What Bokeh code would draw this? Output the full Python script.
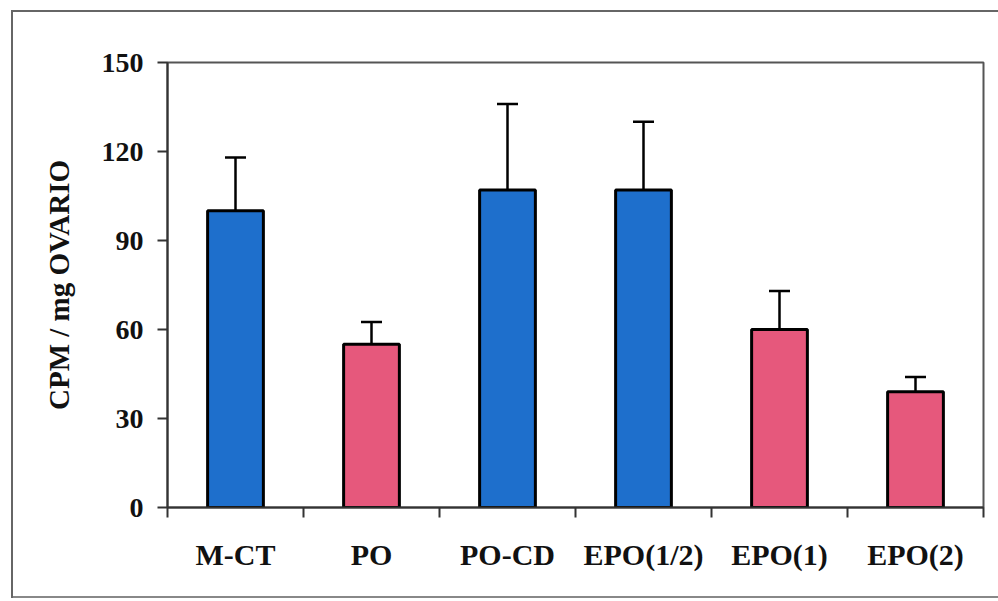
from bokeh.plotting import figure
from bokeh.models import (Range1d, FixedTicker, CustomJSTickFormatter, ColumnDataSource,
                          Whisker, TeeHead)
from bokeh.embed import file_html
from bokeh.resources import INLINE

categories = ["M-CT", "PO", "PO-CD", "EPO(1/2)", "EPO(1)", "EPO(2)"]
means = [100, 55, 107, 107, 60, 39]
errors = [18, 7.5, 29, 23, 13, 5]
colors = ["#1e6fcc", "#e6587c", "#1e6fcc", "#1e6fcc", "#e6587c", "#e6587c"]
y_ticks = [0, 30, 60, 90, 120, 150]

xs = [i + 0.5 for i in range(len(categories))]
upper = [m + e for m, e in zip(means, errors)]
src = ColumnDataSource(dict(x=xs, top=means, upper=upper, color=colors))

FONT = "Liberation Serif"

p = figure(width=998, height=600, output_backend="svg", toolbar_location=None,
           x_range=Range1d(0, len(categories)), y_range=Range1d(0, 150),
           min_border_left=167, min_border_right=15, min_border_top=62, min_border_bottom=93)
p.background_fill_color = "white"
p.border_fill_color = None
# outer scanned page frame (left, top, bottom edges) drawn behind the transparent canvas border
p.styles = {
    "background-color": "white",
    "box-shadow": ("inset 11px 0 0 #fff, inset 0 10px 0 #fff, inset 0 -2px 0 #fff, "
                   "inset 13px 0 0 #666, inset 0 12px 0 #666, inset 0 -4px 0 #888"),
}
p.outline_line_color = "#555"
p.outline_line_width = 2
p.xgrid.visible = False
p.ygrid.visible = False

p.vbar(x="x", top="top", bottom=0, width=0.41, fill_color="color",
       line_color="black", line_width=3, source=src)
w = Whisker(base="x", lower="top", upper="upper", source=src,
            line_color="black", line_width=2.5,
            upper_head=TeeHead(size=21, line_color="black", line_width=2.5),
            lower_head=None)
p.add_layout(w)

xa = p.xaxis[0]
xa.ticker = FixedTicker(ticks=xs, minor_ticks=list(range(len(categories) + 1)))
xa.formatter = CustomJSTickFormatter(args=dict(labels=categories),
                                     code="return labels[Math.round(tick - 0.5)];")
xa.major_tick_line_color = None
xa.major_tick_out = 0
xa.major_tick_in = 0
xa.minor_tick_out = 10
xa.minor_tick_in = 0
xa.minor_tick_line_color = "#333"
xa.minor_tick_line_width = 2
xa.axis_line_color = "#333"
xa.axis_line_width = 2
xa.major_label_text_font = FONT
xa.major_label_text_font_style = "bold"
xa.major_label_text_font_size = "30px"
xa.major_label_text_color = "#111"
xa.major_label_standoff = 20

ya = p.yaxis[0]
ya.ticker = FixedTicker(ticks=y_ticks, minor_ticks=[])
ya.major_tick_out = 10
ya.major_tick_in = 0
ya.major_tick_line_color = "#333"
ya.major_tick_line_width = 2
ya.axis_line_color = "#333"
ya.axis_line_width = 2
ya.major_label_text_font = FONT
ya.major_label_text_font_style = "bold"
ya.major_label_text_font_size = "28px"
ya.major_label_text_color = "#111"
ya.major_label_standoff = 14
ya.axis_label = "CPM / mg OVARIO"
ya.axis_label_text_font = FONT
ya.axis_label_text_font_style = "bold"
ya.axis_label_text_font_size = "29px"
ya.axis_label_text_color = "#111"
ya.axis_label_standoff = 24

open("out.html", "w").write(file_html(p, INLINE))
